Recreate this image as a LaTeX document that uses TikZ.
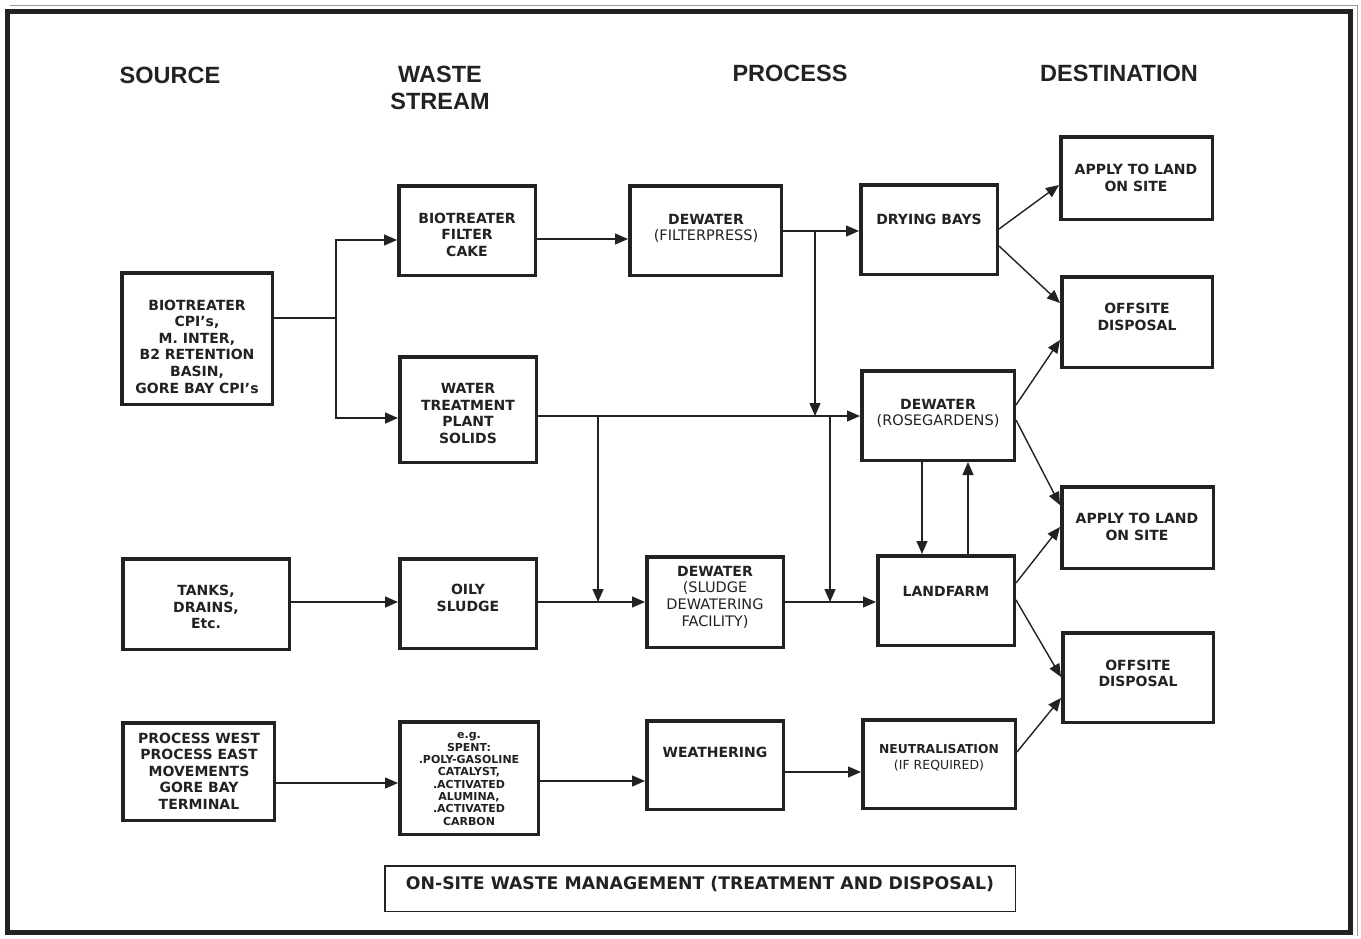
\documentclass[tikz,border=0pt]{standalone}
\usepackage{fontspec}
\setmainfont{DejaVu Sans}
\newfontfamily\headfont{Liberation Sans}
\usetikzlibrary{arrows.meta}
\definecolor{ink}{HTML}{222222}
\definecolor{scan}{HTML}{9A9A9A}
\newcommand\reg{\mdseries\fontsize{14.5}{16.6}\selectfont}
\begin{document}
\begin{tikzpicture}[x=1pt,y=-1pt,
  box/.style={draw=ink, line width=3.5pt, rectangle, inner sep=0pt},
  txt/.style={text=ink, font=\bfseries\fontsize{14}{16.6}\selectfont, align=center, inner sep=0pt},
  small/.style={text=ink, font=\bfseries\fontsize{11}{12.3}\selectfont, align=center, inner sep=0pt},
  head/.style={text=ink, font=\headfont\bfseries\fontsize{23.5}{27}\selectfont, align=center, inner sep=0pt},
  arr/.style={draw=ink, line width=1.4pt, -{Triangle[length=13pt,width=11pt]}},
  ln/.style={draw=ink, line width=1.4pt}]
\useasboundingbox (0,0) rectangle (1361,938);
\fill[white] (0,0) rectangle (1361,938);
% frame
\draw[scan, line width=1pt] (10,5) -- (1357,5) -- (1357,936);
\draw[ink, line width=5pt] (7,11) rectangle (1350,932.5);

% headings
\node[head] (hsrc) at (170,75) {SOURCE};
\node[head] (hws) at (440,87.5) {WASTE\\STREAM};
\node[head] (hpr) at (790,73) {PROCESS};
\node[head] (hde) at (1119,73) {DESTINATION};

% boxes
\node[box, minimum width=150.5pt, minimum height=131.5pt] (bio) at (197,338.5) {};
\node[box, minimum width=166.5pt, minimum height=90.5pt] (tanks) at (206,604) {};
\node[box, minimum width=151.5pt, minimum height=97.5pt] (pw) at (198.5,771.5) {};
\node[box, minimum width=136.5pt, minimum height=89.5pt] (fc) at (467,230.5) {};
\node[box, minimum width=136.5pt, minimum height=105.5pt] (wtp) at (468,409.5) {};
\node[box, minimum width=136.5pt, minimum height=89.5pt] (oily) at (468,603.5) {};
\node[box, minimum width=138.5pt, minimum height=112.5pt] (spent) at (469,778) {};
\node[box, minimum width=151.5pt, minimum height=89.5pt] (dwf) at (705.5,230.5) {};
\node[box, minimum width=136.5pt, minimum height=90.5pt] (dws) at (715,602) {};
\node[box, minimum width=136.5pt, minimum height=88.5pt] (wea) at (715,765) {};
\node[box, minimum width=136.5pt, minimum height=89.5pt] (dry) at (929,229.5) {};
\node[box, minimum width=152.5pt, minimum height=89.5pt] (dwr) at (938,415.5) {};
\node[box, minimum width=136.5pt, minimum height=89.5pt] (land) at (946,600.5) {};
\node[box, minimum width=152.5pt, minimum height=88.5pt] (neu) at (939,764) {};
\node[box, minimum width=151.5pt, minimum height=82.5pt] (ap1) at (1136.5,178) {};
\node[box, minimum width=150.5pt, minimum height=90.5pt] (off1) at (1137,322) {};
\node[box, minimum width=151.5pt, minimum height=81.5pt] (ap2) at (1137.5,527.5) {};
\node[box, minimum width=150.5pt, minimum height=89.5pt] (off2) at (1138,677.5) {};
\node[draw=ink, line width=1.5pt, rectangle, minimum width=630.5pt, minimum height=45.5pt] (cap) at (700,888.5) {};

% texts
\node[txt] (tbio) at (197,346.5) {BIOTREATER\\CPI’s,\\M. INTER,\\B2 RETENTION\\BASIN,\\GORE BAY CPI’s};
\node[txt] (ttanks) at (206,607) {TANKS,\\DRAINS,\\Etc.};
\node[txt] (tpw) at (199,771) {PROCESS WEST\\PROCESS EAST\\MOVEMENTS\\GORE BAY\\TERMINAL};
\node[txt] (tfc) at (467,234.5) {BIOTREATER\\FILTER\\CAKE};
\node[txt] (twtp) at (468,413.5) {WATER\\TREATMENT\\PLANT\\SOLIDS};
\node[txt] (toily) at (468,598) {OILY\\SLUDGE};
\node[small] (tspent) at (469,779) {e.g.\\SPENT:\\.POLY-GASOLINE\\CATALYST,\\.ACTIVATED\\ALUMINA,\\.ACTIVATED\\CARBON};
\node[txt] (tdwf) at (706,228.5) {DEWATER\\\reg (FILTERPRESS)};
\node[txt] (tdws) at (715,597) {DEWATER\\\reg (SLUDGE\\\reg DEWATERING\\\reg FACILITY)};
\node[txt] (twea) at (715,752) {WEATHERING};
\node[txt] (tdry) at (929,219) {DRYING BAYS};
\node[txt] (tdwr) at (938,413.5) {DEWATER\\\reg (ROSEGARDENS)};
\node[txt] (tland) at (946,591) {LANDFARM};
\node[text=ink, font=\bfseries\fontsize{12.3}{15.8}\selectfont, align=center, inner sep=0pt] (tneu) at (939,758) {NEUTRALISATION\\\mdseries\fontsize{12.5}{15.8}\selectfont (IF REQUIRED)};
\node[txt] (tap1) at (1136,178) {APPLY TO LAND\\ON SITE};
\node[txt] (toff1) at (1137,317) {OFFSITE\\DISPOSAL};
\node[txt] (tap2) at (1137,527) {APPLY TO LAND\\ON SITE};
\node[txt] (toff2) at (1138,673.5) {OFFSITE\\DISPOSAL};
\node[text=ink, font=\bfseries\fontsize{17.3}{20}\selectfont, inner sep=0pt] (tcap) at (700,884) {ON-SITE WASTE MANAGEMENT (TREATMENT AND DISPOSAL)};

% connectors
\coordinate (j1) at (336,318);
\draw[ln] (bio.east |- j1) -- (j1);
\draw[arr] (j1) |- ([yshift=-9.5pt]fc.west);
\draw[arr] (j1) |- ([yshift=-8.5pt]wtp.west);
\draw[arr] ([yshift=-8.5pt]fc.east) -- ([yshift=-8.5pt]dwf.west);
\coordinate (j2) at (815,231);
\draw[arr] (dwf.east |- j2) -- (dry.west |- j2);
\coordinate (j2b) at (815,416);
\draw[arr] (j2) -- (j2b);
\coordinate (j3) at (598,416);
\coordinate (j4) at (830,416);
\draw[arr] (wtp.east |- j3) -- (dwr.west |- j3);
\coordinate (j3b) at (598,602);
\coordinate (j4b) at (830,602);
\draw[arr] (j3) -- (j3b);
\draw[arr] (j4) -- (j4b);
\draw[arr] (tanks.east |- j3b) -- (oily.west |- j3b);
\draw[arr] (oily.east |- j3b) -- (dws.west |- j3b);
\draw[arr] (dws.east |- j4b) -- (land.west |- j4b);
\draw[arr] ([xshift=-16pt]dwr.south) -- ([xshift=-24pt]land.north);
\draw[arr] ([xshift=22pt]land.north) -- ([xshift=30pt]dwr.south);
\draw[arr] ([yshift=-11.5pt]pw.east) -- ([yshift=-11.5pt]pw.east -| spent.west);
\draw[arr] ([yshift=-3pt]spent.east) -- ([yshift=-3pt]spent.east -| wea.west);
\draw[arr] ([yshift=-7pt]wea.east) -- ([yshift=-7pt]wea.east -| neu.west);
% diagonals
\draw[arr] ([yshift=0.5pt]dry.east) -- ([yshift=-7pt]ap1.west);
\draw[arr] ([yshift=-16.5pt]dry.east) -- ([yshift=19pt]off1.west);
\draw[arr] ([yshift=10.5pt]dwr.east) -- ([yshift=-18pt]off1.west);
\draw[arr] ([yshift=-4.5pt]dwr.east) -- ([yshift=22.5pt]ap2.west);
\draw[arr] ([yshift=17.5pt]land.east) -- ([yshift=0.5pt]ap2.west);
\draw[arr] ([yshift=0.5pt]land.east) -- ([yshift=0.5pt]off2.west);
\draw[arr] ([yshift=12pt]neu.east) -- ([yshift=-20.5pt]off2.west);
\end{tikzpicture}
\end{document}
